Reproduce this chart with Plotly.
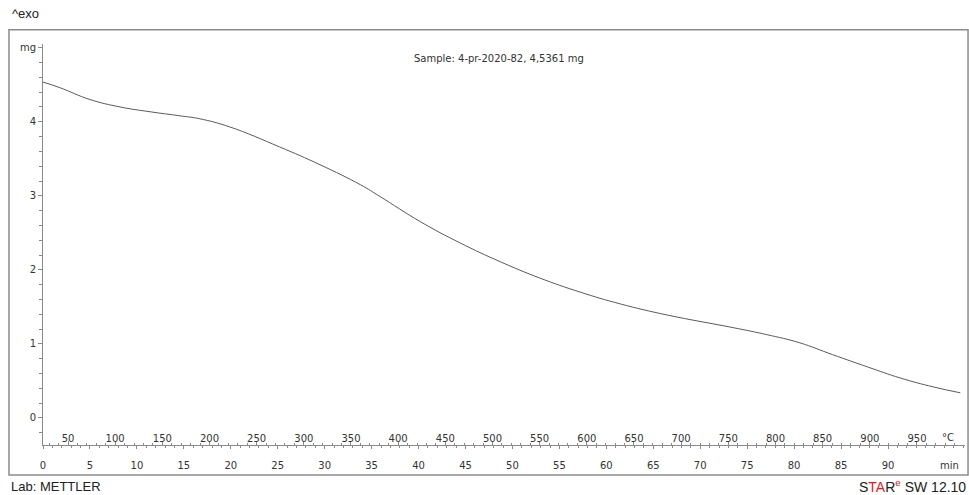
import plotly.graph_objects as go

# Data (time in min, mass in mg)
time_min = [0.0, 1.8, 5.0, 8.2, 11.4, 14.6, 16.7, 19.9, 25.2, 29.5, 33.8, 35.9,
            40.2, 44.4, 48.7, 52.9, 57.2, 61.5, 66.5, 73.5, 77.1, 80.6, 84.1,
            87.8, 91.3, 94.8, 97.7]
mass_mg = [4.536, 4.46, 4.30, 4.20, 4.135, 4.08, 4.04, 3.93, 3.66, 3.42, 3.15, 2.99,
           2.65, 2.365, 2.11, 1.89, 1.70, 1.54, 1.39, 1.22, 1.125, 1.015, 0.855,
           0.69, 0.54, 0.42, 0.34]

y_ticks = [0, 1, 2, 3, 4, 5]
y_ticktext = ["0", "1", "2", "3", "4", "mg"]
min_ticks = list(range(0, 95, 5))
temp_ticks = list(range(50, 1000, 50))

T_RANGE = [23.5, 1000.9]
X_RANGE = [0, 98.2]
Y_RANGE = [-0.365, 5.05]

FONT = "DejaVu Sans"
AX = "#8a8a8a"
TXT = "#333333"

fig = go.Figure()
fig.add_trace(go.Scatter(x=time_min, y=mass_mg, mode="lines",
                         line=dict(color="#5a5a5a", width=1.0, shape="spline", smoothing=1.2),
                         showlegend=False, hoverinfo="skip"))
# empty trace carrying the temperature axis
fig.add_trace(go.Scatter(x=T_RANGE, y=[None, None], xaxis="x2", yaxis="y", mode="lines",
                         showlegend=False, hoverinfo="skip"))

fig.update_layout(
    width=969, height=495,
    margin=dict(l=43, r=4, t=44, b=50, autoexpand=False),
    paper_bgcolor="white", plot_bgcolor="white",
    font=dict(family=FONT, size=10, color=TXT),
    xaxis=dict(range=X_RANGE, tickvals=min_ticks, showgrid=False, zeroline=False, automargin=False,
               showline=True, linecolor=AX, linewidth=1, ticks="outside", ticklen=3, tickcolor=AX,
               minor=dict(dtick=1, ticks="outside", ticklen=2, tickcolor=AX),
               ticklabelstandoff=8,
               tickfont=dict(family=FONT, size=10, color=TXT)),
    xaxis2=dict(range=T_RANGE, overlaying="x", side="bottom", anchor="y", tickvals=temp_ticks,
                showgrid=False, zeroline=False, showline=False, automargin=False,
                ticks="inside", ticklen=4, tickcolor=AX,
                minor=dict(dtick=10, ticks="inside", ticklen=2, tickcolor=AX),
                ticklabelposition="inside", ticklabelstandoff=-4,
                tickfont=dict(family=FONT, size=10, color=TXT)),
    yaxis=dict(range=Y_RANGE, tickvals=y_ticks, ticktext=y_ticktext, showgrid=False, zeroline=False,
               automargin=False,
               showline=True, linecolor=AX, linewidth=1, ticks="outside", ticklen=4, tickcolor=AX,
               minor=dict(dtick=0.2, ticks="outside", ticklen=3, tickcolor=AX),
               tickfont=dict(family=FONT, size=10, color=TXT)),
    shapes=[dict(type="rect", xref="paper", yref="paper", x0=-0.0369, x1=1.0033, y0=-0.0749, y1=1.0357,
                 line=dict(color="#8c8c8c", width=1.5))],
    annotations=[
        dict(text="^exo", xref="paper", yref="paper", x=-0.036, y=1.075, xanchor="left", yanchor="middle",
             showarrow=False, font=dict(family="Liberation Sans", size=13, color="#222")),
        dict(text="Lab: METTLER", xref="paper", yref="paper", x=-0.037, y=-0.1023, xanchor="left", yanchor="middle",
             showarrow=False, font=dict(family="Liberation Sans", size=13, color="#222")),
        dict(text="S<span style='color:#e8161b'>TA</span>R<sup><span style='color:#e8161b'>e</span></sup> SW 12.10",
             xref="paper", yref="paper", x=1.003, y=-0.1023, xanchor="right", yanchor="middle",
             showarrow=False, font=dict(family="Liberation Sans", size=14, color="#222")),
        dict(text="Sample: 4-pr-2020-82, 4,5361 mg", xref="paper", yref="paper", x=0.4946, y=0.965,
             xanchor="center", yanchor="middle", showarrow=False, font=dict(family=FONT, size=10, color=TXT)),
        dict(text="°C", xref="paper", yref="paper", x=0.982, y=0.0175, xanchor="center", yanchor="middle",
             showarrow=False, font=dict(family=FONT, size=10, color=TXT)),
        dict(text="min", xref="paper", yref="paper", x=0.983, y=-0.05, xanchor="center", yanchor="middle",
             showarrow=False, font=dict(family=FONT, size=10, color=TXT)),
    ],
)

fig.write_html("out.html", config={"displayModeBar": False},
               post_script="document.body.style.margin='0';document.body.style.padding='0';")
